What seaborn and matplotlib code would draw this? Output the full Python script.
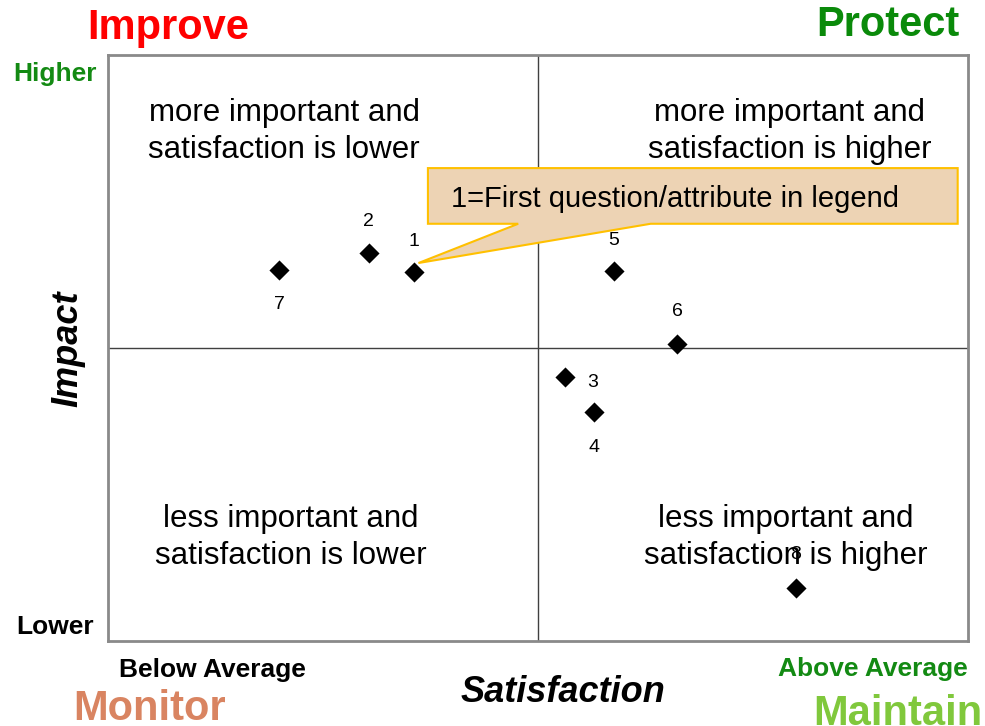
import matplotlib
matplotlib.use("Agg")
import matplotlib.pyplot as plt
from matplotlib.patches import Polygon
import seaborn as sns
import pandas as pd

# attribute numbers and their scores (satisfaction on x, impact on y, 0-10 scale, 5 = average)
labels = ['1', '2', '3', '4', '5', '6', '7', '8']
satisfaction = [3.56, 3.03, 5.31, 5.65, 5.88, 6.62, 1.99, 8.00]
impact = [6.30, 6.62, 4.51, 3.91, 6.31, 5.07, 6.33, 0.90]
midpoint = 5.0

quadrant_text = {
    'tl': 'more important and\nsatisfaction is lower',
    'tr': 'more important and\nsatisfaction is higher',
    'bl': 'less important and\nsatisfaction is lower',
    'br': 'less important and\nsatisfaction is higher',
}
callout_text = '1=First question/attribute in legend'

sns.set_style("white")
plt.rcParams['font.family'] = ['Liberation Sans', 'DejaVu Sans']
plt.rcParams['text.color'] = 'black'

df = pd.DataFrame({'label': labels, 'Satisfaction': satisfaction, 'Impact': impact})

W, H = 985, 726
fig = plt.figure(figsize=(W / 100, H / 100), dpi=100)
ax = fig.add_axes([108 / W, 85 / H, 860 / W, 586 / H])

sns.scatterplot(data=df, x='Satisfaction', y='Impact', marker='D', s=105,
                color='black', edgecolor='black', linewidth=0, ax=ax, zorder=3)

ax.set_xlim(0, 10)
ax.set_ylim(0, 10)
ax.set_xticks([])
ax.set_yticks([])
ax.set_xlabel('')
ax.set_ylabel('')
for sp in ax.spines.values():
    sp.set_color('#8a8a8a')
    sp.set_linewidth(2)

ax.axvline(midpoint, color='#404040', lw=1, zorder=1)
ax.axhline(midpoint, color='#404040', lw=1, zorder=1)

# point number labels (offset in points)
label_offset = {'1': (0, 22), '2': (0, 23), '3': (20, -4), '4': (0, -26),
                '5': (0, 22), '6': (0, 23), '7': (0, -25), '8': (0, 24)}
for lab, x, y in zip(labels, satisfaction, impact):
    dx, dy = label_offset[lab]
    ax.annotate(lab, (x, y), xytext=(dx, dy), textcoords='offset points',
                ha='center', va='center', fontsize=14, color='black', zorder=2)

# quadrant descriptions
qkw = dict(transform=ax.transAxes, ha='center', va='center', fontsize=22.5,
           color='black', linespacing=1.32, zorder=2)
ax.text(0.205, 0.870, quadrant_text['tl'], **qkw)
ax.text(0.793, 0.870, quadrant_text['tr'], **qkw)
ax.text(0.213, 0.177, quadrant_text['bl'], **qkw)
ax.text(0.788, 0.177, quadrant_text['br'], **qkw)

# callout box pointing at attribute 1
tip = (satisfaction[0] + 0.05, impact[0] + 0.15)
box = [(3.72, 8.07), (9.88, 8.07), (9.88, 7.12), (6.31, 7.12), tip, (4.77, 7.12), (3.72, 7.12)]
ax.add_patch(Polygon(box, closed=True, facecolor='#EDD3B4', edgecolor='#FFC000',
                     lw=1.5, zorder=4))
ax.text(3.99, 7.55, callout_text, ha='left', va='center', fontsize=21,
        color='black', zorder=5)

# axis titles
fig.text(563 / W, 1 - 693 / H, 'Satisfaction', ha='center', va='center',
         fontsize=26, fontweight='bold', fontstyle='italic', color='black')
fig.text(68 / W, 1 - 349 / H, 'Impact', ha='center', va='center', rotation=90,
         fontsize=26, fontweight='bold', fontstyle='italic', color='black')

# scale ends
fig.text(55 / W, 1 - 74 / H, 'Higher', ha='center', va='center', fontsize=19,
         fontweight='bold', color='#138a13')
fig.text(55 / W, 1 - 627 / H, 'Lower', ha='center', va='center', fontsize=19,
         fontweight='bold', color='black')
fig.text(212 / W, 1 - 670 / H, 'Below Average', ha='center', va='center',
         fontsize=19, fontweight='bold', color='black')
fig.text(873 / W, 1 - 669 / H, 'Above Average', ha='center', va='center',
         fontsize=19, fontweight='bold', color='#138a13')

# quadrant actions
fig.text(168 / W, 1 - 28 / H, 'Improve', ha='center', va='center', fontsize=30,
         fontweight='bold', color='#FF0000')
fig.text(888 / W, 1 - 25 / H, 'Protect', ha='center', va='center', fontsize=30,
         fontweight='bold', color='#0A8A0A')
fig.text(150 / W, 1 - 709 / H, 'Monitor', ha='center', va='center', fontsize=30,
         fontweight='bold', color='#D98461')
fig.text(813 / W, 1 - 714 / H, 'Maintain', ha='left', va='center', fontsize=30,
         fontweight='bold', color='#80C83C')

fig.savefig('out.png', dpi=100)
